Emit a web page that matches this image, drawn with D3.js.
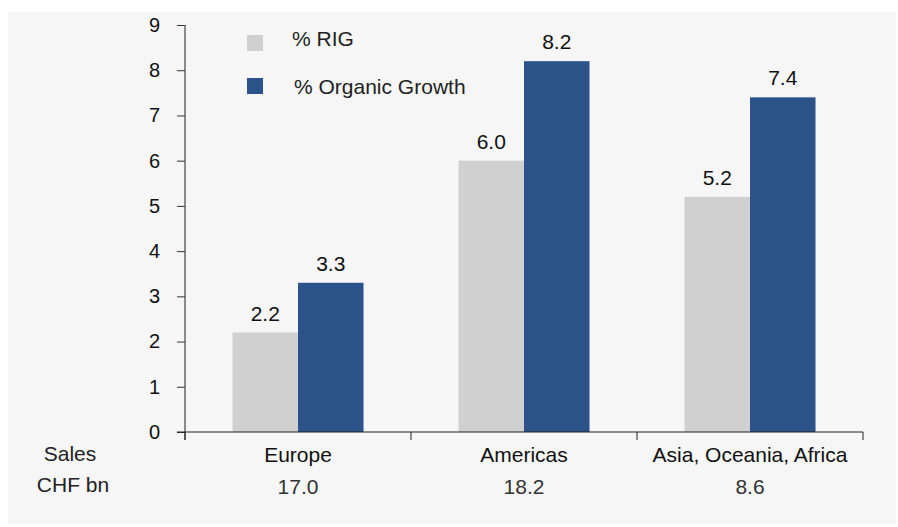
<!DOCTYPE html>
<html>
<head>
<meta charset="utf-8">
<script src="https://cdn.jsdelivr.net/npm/d3@7"></script>
<style>
  html, body { margin: 0; padding: 0; background: #ffffff; }
  svg { display: block; font-family: "Liberation Sans", Arial, sans-serif; }
</style>
</head>
<body>
<svg id="chart" width="898" height="527"></svg>
<script>
// Regional growth data
const regions = ["Europe", "Americas", "Asia, Oceania, Africa"];
const salesChfBn = ["17.0", "18.2", "8.6"];
const seriesNames = ["% RIG", "% Organic Growth"];
const rig = [2.2, 6.0, 5.2];
const organicGrowth = [3.3, 8.2, 7.4];
const yTicks = [0, 1, 2, 3, 4, 5, 6, 7, 8, 9];
const seriesColors = ["#d0d0d0", "#2b5289"];

const svg = d3.select("#chart");

// panel background
svg.append("rect")
  .attr("x", 8).attr("y", 12)
  .attr("width", 888).attr("height", 512)
  .attr("fill", "#f6f6f6");

const x0 = d3.scaleBand().domain(regions).range([185, 863]).paddingInner(0).paddingOuter(0);
const x1 = d3.scaleBand().domain(seriesNames).range([0, x0.bandwidth()]).paddingInner(0).paddingOuter(0.725);
const y = d3.scaleLinear().domain([0, 9]).range([432, 25]);

const rows = regions.map((r, i) => ({ region: r, values: [rig[i], organicGrowth[i]] }));

// bars
const groups = svg.append("g").selectAll("g")
  .data(rows).join("g")
  .attr("transform", d => `translate(${x0(d.region)},0)`);

groups.selectAll("rect")
  .data(d => d.values.map((v, j) => ({ name: seriesNames[j], value: v, color: seriesColors[j] })))
  .join("rect")
  .attr("x", d => x1(d.name))
  .attr("width", x1.bandwidth())
  .attr("y", d => y(d.value))
  .attr("height", d => y(0) - y(d.value))
  .attr("fill", d => d.color);

// value labels
groups.selectAll("text.val")
  .data(d => d.values.map((v, j) => ({ name: seriesNames[j], value: v })))
  .join("text")
  .attr("class", "val")
  .attr("x", d => x1(d.name) + x1.bandwidth() / 2)
  .attr("y", d => y(d.value) - 12)
  .attr("text-anchor", "middle")
  .attr("font-size", 21)
  .attr("fill", "#111")
  .text(d => d.value.toFixed(1));

// y axis
const yAxis = svg.append("g")
  .attr("transform", "translate(185,0)")
  .call(d3.axisLeft(y).tickValues(yTicks).tickSize(8).tickPadding(17).tickFormat(d3.format("d")));
yAxis.select(".domain").attr("stroke", "#666").attr("stroke-width", 1.5)
  .attr("d", `M0,${y(9)}V${y(0) + 8}`);
yAxis.selectAll(".tick line").attr("stroke", "#333");
yAxis.selectAll(".tick text").attr("font-size", 20).attr("fill", "#111")
  .attr("font-family", "Liberation Sans, Arial, sans-serif");

// x axis line with boundary ticks
const xAxis = svg.append("g");
xAxis.append("line")
  .attr("x1", 177).attr("x2", x0.range()[1])
  .attr("y1", y(0)).attr("y2", y(0))
  .attr("stroke", "#222").attr("stroke-width", 1);
const boundaries = regions.map(r => x0(r)).concat([x0.range()[1]]);
xAxis.selectAll("line.tick")
  .data(boundaries).join("line")
  .attr("class", "tick")
  .attr("x1", d => d).attr("x2", d => d)
  .attr("y1", y(0)).attr("y2", y(0) + 8)
  .attr("stroke", "#222");

// category labels
svg.append("g").selectAll("text")
  .data(regions).join("text")
  .attr("x", d => x0(d) + x0.bandwidth() / 2)
  .attr("y", 462)
  .attr("text-anchor", "middle")
  .attr("font-size", 21)
  .attr("fill", "#111")
  .text(d => d);

// sales figures
svg.append("g").selectAll("text")
  .data(regions).join("text")
  .attr("x", d => x0(d) + x0.bandwidth() / 2)
  .attr("y", 494)
  .attr("text-anchor", "middle")
  .attr("font-size", 21)
  .attr("fill", "#333")
  .text((d, i) => salesChfBn[i]);

svg.append("text").attr("x", 70).attr("y", 461).attr("text-anchor", "middle")
  .attr("font-size", 21).attr("fill", "#222").text("Sales");
svg.append("text").attr("x", 73).attr("y", 492).attr("text-anchor", "middle")
  .attr("font-size", 21).attr("fill", "#222").text("CHF bn");

// legend
const legendTextY = [11, 16];
const legend = svg.append("g").selectAll("g")
  .data(seriesNames).join("g")
  .attr("transform", (d, i) => `translate(247,${35 + i * 43})`);
legend.append("rect")
  .attr("width", 16).attr("height", 16)
  .attr("fill", (d, i) => seriesColors[i]);
legend.append("text")
  .attr("x", (d, i) => 45 + i * 2).attr("y", (d, i) => legendTextY[i])
  .attr("font-size", 21).attr("fill", "#222")
  .text(d => d);
</script>
</body>
</html>
